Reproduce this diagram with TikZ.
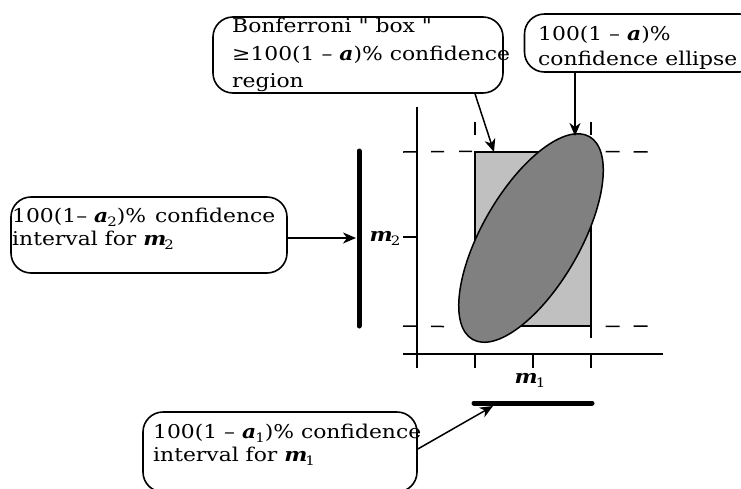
\documentclass[tikz,border=0pt]{standalone}
\usepackage{fontspec}
\newfontfamily\dvs{DejaVu Serif}[FakeStretch=1.15]
\usetikzlibrary{arrows.meta}
\newcommand\bsym[1]{{\bfseries\itshape #1}}
\newcommand\subx[1]{\raisebox{-4pt}{\fontsize{13}{13}\selectfont #1}}
\newcommand\qq{\char34}
\begin{document}
\begin{tikzpicture}[x=1pt,y=-1pt,
  cbox/.style={draw,line width=1.6pt,rounded corners=20pt,minimum width=#1},
  txt/.style={anchor=north west,inner sep=0pt,align=left,font=\dvs\fontsize{19}{#1}\selectfont},
  ax/.style={line width=1.6pt},
  dsh/.style={line width=1.5pt,dash pattern=on 13pt off 15pt},
  rdsh/.style={line width=1.5pt,dash pattern=on 14pt off 14pt,dash phase=14pt},
  bar/.style={line width=5pt,line cap=round},
  arr/.style={line width=1.5pt,-{Stealth[length=13pt,width=11pt,inset=4pt]}}]
\clip (0,0) rectangle (741,488);
\fill[white] (0,0) rectangle (741,488);
% boxes
\node[cbox=290pt,minimum height=76pt] (bonf) at (358,55) {};
\node[cbox=235pt,minimum height=58pt] (ellb) at (642,43) {};
\node[cbox=276pt,minimum height=76pt] (ci2) at (149,235) {};
\node[cbox=274pt,minimum height=80pt] (ci1) at (280,452) {};
\node[txt=27.5] (tbonf) at (232,18) {Bonferroni \qq\ box \qq\\≥100(1 – \bsym{a})\%  confidence\\region};
\node[txt=25] (tell) at (538,25.5) {100(1 – \bsym{a})\%\\confidence ellipse};
\node[txt=23] (tci2) at (12,207.5) {100(1– \bsym{a}\kern-1pt\subx{2})\%\hspace{9pt}confidence\\interval for \bsym{m}\kern-2pt\subx{2}};
\node[txt=23] (tci1) at (153,423.5) {100(1 – \bsym{a}\kern-1pt\subx{1})\% confidence\\interval for \bsym{m}\kern-2pt\subx{1}};
% Bonferroni rectangle and ellipse
\node[draw,fill={rgb,255:red,192;green,192;blue,192},line width=1.3pt,minimum width=116pt,minimum height=174pt,inner sep=0pt] (rect) at (533,239) {};
\filldraw[fill={rgb,255:red,128;green,128;blue,128},line width=1.5pt,rotate around={60:(531,238)}] (531,238) ellipse [x radius=117, y radius=49];
% dashed lines
\coordinate (dl1) at (403,152); \coordinate (dr1) at (648,152);
\coordinate (dl2) at (403,326); \coordinate (dr2) at (648,326);
\draw[dsh] (dl1) -- (rect.north west);
\draw[rdsh] (rect.north east) -- (dr1);
\draw[dsh] (dl2) -- ([xshift=-20pt]rect.south west);
\draw[rdsh] (rect.south east) -- (dr2);
\coordinate (v1a) at (475,122); \coordinate (v1b) at (475,137);
\coordinate (v2a) at (591,122); \coordinate (v2b) at (591,137);
\coordinate (v3a) at (591,326); \coordinate (v3b) at (591,338);
\draw[dsh] (v1a) -- (v1b); \draw[dsh] (v2a) -- (v2b); \draw[dsh] (v3a) -- (v3b);
% axes
\coordinate (yt) at (417,107); \coordinate (yb) at (417,368);
\coordinate (xl) at (403,354); \coordinate (xr) at (663,354);
\draw[ax] (yt) -- (yb);
\draw[ax] (xl) -- (xr);
\coordinate (yk) at (403,237);
\draw[ax] (yk) -- (yk -| yt);
\foreach \t in {475,533,591} {\coordinate (tk\t) at (\t,354); \draw[ax] (tk\t) -- ++(0,14);}
\node[inner sep=0pt,font=\dvs\fontsize{19}{19}\selectfont] (m2) at (385,238) {\bsym{m}\kern-2pt\subx{2}};
\node[inner sep=0pt,font=\dvs\fontsize{19}{19}\selectfont] (m1) at (530,380) {\bsym{m}\kern-2pt\subx{1}};
% bars
\coordinate (b2t) at (359,151); \coordinate (b2b) at (359,326);
\draw[bar] (b2t) -- (b2b);
\coordinate (b1l) at (474,403); \coordinate (b1r) at (592,403);
\draw[bar] (b1l) -- (b1r);
% arrows
\coordinate (a2) at (356,238);
\draw[arr] (ci2.east |- a2) -- (a2);
\coordinate (a1) at (493,406);
\draw[arr] ([yshift=3pt]ci1.east) -- (a1);
\coordinate (ab) at (494,152);
\draw[arr] ([xshift=117pt]bonf.south) -- (ab);
\coordinate (ae) at (575,136);
\draw[arr] ([xshift=-67pt]ellb.south) -- (ae);
\end{tikzpicture}
\end{document}
